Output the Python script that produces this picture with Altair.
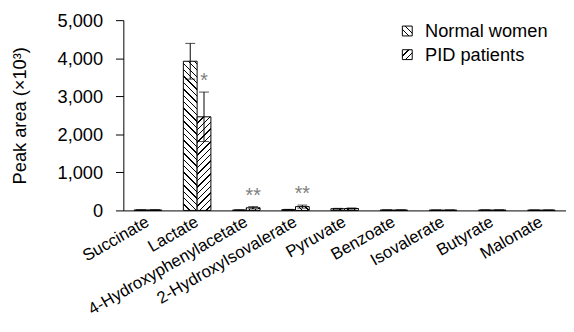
import altair as alt
import pandas as pd

categories = ["Succinate", "Lactate", "4-Hydroxyphenylacetate", "2-HydroxyIsovalerate",
              "Pyruvate", "Benzoate", "Isovalerate", "Butyrate", "Malonate"]
series = ["Normal women", "PID patients"]
normal_vals = [12, 3920, 10, 20, 45, 10, 8, 10, 8]
pid_vals = [12, 2460, 70, 100, 50, 10, 8, 10, 8]
normal_err = [4, 470, 6, 8, 10, 4, 3, 4, 3]
pid_err = [4, 650, 30, 40, 15, 4, 3, 4, 3]
pid_marks = ["", "*", "**", "**", "", "", "", "", ""]
y_ticks = [0, 1000, 2000, 3000, 4000, 5000]

W, H = 449, 193
Y_MAX = 5000
PAD_INNER = 0.44
FONT = "Liberation Sans"
FS = 18.5
FS_X = 17

rows = []
for i, c in enumerate(categories):
    rows.append(dict(cat=c, series=series[0], value=normal_vals[i], err=normal_err[i], mark=""))
    rows.append(dict(cat=c, series=series[1], value=pid_vals[i], err=pid_err[i], mark=pid_marks[i]))
df = pd.DataFrame(rows)
df["lo"] = (df["value"] - df["err"]).clip(lower=0)
df["hi"] = df["value"] + df["err"]


def hatch(w, h, direction, period=6.5, lw=1.4, ink="#000000"):
    D = w + h
    s = D / (w * w + h * h)
    if direction == "back":  # "\" lines
        x1, y1, x2, y2 = 0, 1, s * w, 1 - s * h
    else:  # "/" lines
        x1, y1, x2, y2 = 0, 0, s * w, s * h
    stops = [{"offset": 0, "color": "#ffffff"}]
    k = 1
    while k * period + lw / 2 < D:
        c = k * period
        a = (c - lw / 2) / D
        b = (c + lw / 2) / D
        stops += [{"offset": a, "color": "#ffffff"}, {"offset": a, "color": ink},
                  {"offset": b, "color": ink}, {"offset": b, "color": "#ffffff"}]
        k += 1
    stops.append({"offset": 1, "color": "#ffffff"})
    return {"gradient": "linear", "x1": x1, "y1": y1, "x2": x2, "y2": y2, "stops": stops}


step = W / len(categories)
bar_w = step * (1 - PAD_INNER) / 2
h_norm = normal_vals[1] / Y_MAX * H
h_pid = pid_vals[1] / Y_MAX * H
grad_norm = hatch(bar_w, h_norm, "back")
grad_pid = hatch(bar_w, h_pid, "fwd")

x_enc = alt.X("cat:N", sort=categories,
              scale=alt.Scale(paddingInner=PAD_INNER, paddingOuter=PAD_INNER / 2),
              axis=alt.Axis(title=None, labelAngle=-30, ticks=False, labelFontSize=FS_X,
                            labelPadding=10, domainColor="#000000",
                            labelColor="#000000",
                            labelFont=FONT, labelAlign="right", labelBaseline="middle",
                            labelLimit=0))
xo = alt.XOffset("series:N", sort=series, scale=alt.Scale(domain=series))
y_axis = alt.Axis(values=y_ticks, labelExpr="format(datum.value, ',')", grid=False,
                  tickSize=8, labelPadding=13,
                  labelFontSize=FS, labelFont=FONT, labelColor="#000000",
                  domainColor="#000000", tickColor="#000000",
                  title="Peak area (×10³)", titleFontSize=FS, titleFont=FONT,
                  titleFontWeight="normal", titleColor="#000000",
                  titleX=-95, titleY=H / 2, titleBaseline="bottom", titleAlign="center")
y_scale = alt.Scale(domain=[0, Y_MAX], nice=False)


def Y(field):
    return alt.Y(field, scale=y_scale, axis=y_axis)


base = alt.Chart(df)

bars_norm = base.transform_filter(alt.datum.series == series[0]).mark_bar(
    fill=grad_norm, stroke="#000000", strokeWidth=1).encode(x=x_enc, xOffset=xo, y=Y("value:Q"))
bars_pid = base.transform_filter(alt.datum.series == series[1]).mark_bar(
    fill=grad_pid, stroke="#000000", strokeWidth=1).encode(x=x_enc, xOffset=xo, y=Y("value:Q"))

err_rule = base.mark_rule(color="#000000", strokeWidth=1).encode(
    x=x_enc, xOffset=xo, y=Y("lo:Q"), y2="hi:Q")
cap_hi = base.mark_tick(color="#000000", thickness=1, size=10, orient="horizontal").encode(
    x=x_enc, xOffset=xo, y=Y("hi:Q"))
cap_lo = base.mark_tick(color="#000000", thickness=1, size=10, orient="horizontal").encode(
    x=x_enc, xOffset=xo, y=Y("lo:Q"))

stars = base.transform_filter(alt.datum.mark != "").mark_text(
    dy=-5, baseline="alphabetic", fontSize=20, color="#808080", font=FONT).encode(
    x=x_enc, xOffset=xo, y=Y("hi:Q"), text="mark:N")

legend_layers = []
for i, name in enumerate(series):
    g = hatch(10, 10, "back" if i == 0 else "fwd", period=6.5, lw=1.4)
    d = alt.Data(values=[{"name": name}])
    sq = alt.Chart(d).mark_square(size=100, fill=g, stroke="#000000", strokeWidth=1,
                                  opacity=1).encode(x=alt.value(288), y=alt.value(11 + 24 * i))
    tx = alt.Chart(d).mark_text(align="left", baseline="middle", fontSize=FS, font=FONT,
                                color="#000000").encode(
        x=alt.value(306), y=alt.value(11 + 24 * i), text="name:N")
    legend_layers += [sq, tx]

chart = alt.layer(bars_norm, bars_pid, err_rule, cap_hi, cap_lo, stars, *legend_layers).properties(
    width=W, height=H,
    autosize=alt.AutoSizeParams(type="none"),
    padding={"left": 117, "top": 10, "right": 0, "bottom": 122},
    background="#ffffff",
).configure_view(stroke=None)

chart.save("out.html", embed_options={"renderer": "svg", "actions": False})
